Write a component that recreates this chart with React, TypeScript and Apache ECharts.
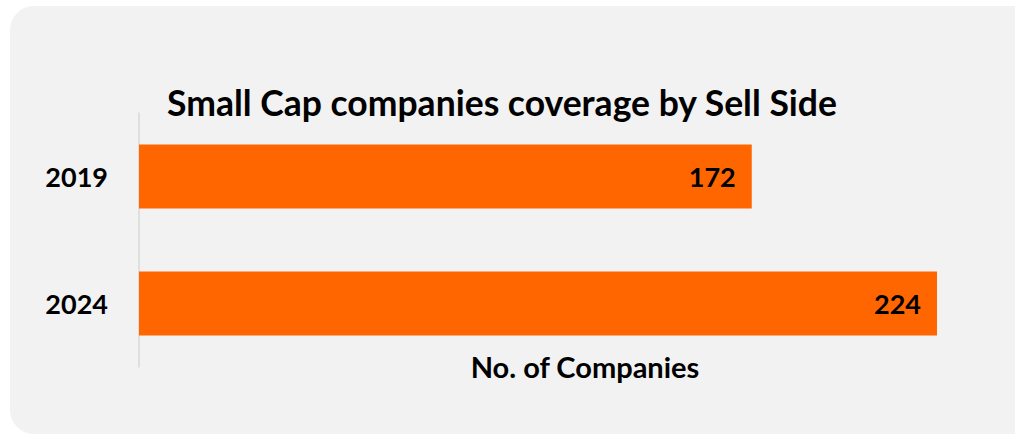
import React, { useEffect, useRef } from "react";
import * as echarts from "echarts";

const categories = ["2019", "2024"];
const values = [172, 224];
const titleText = "Small Cap companies coverage by Sell Side";
const axisName = "No. of Companies";

export default function App() {
  const ref = useRef<HTMLDivElement>(null);
  useEffect(() => {
    if (!ref.current) return;
    const chart = echarts.init(ref.current, null, { renderer: "svg" });
    const font = "Lato, 'Open Sans', sans-serif";
    chart.setOption({
      animation: false,
      textStyle: { fontFamily: font },
      title: {
        text: titleText,
        left: 497,
        top: 79,
        textAlign: "center",
        textStyle: { fontFamily: font, fontWeight: "bold", fontSize: 35.5, color: "#000" },
      },
      grid: { left: 139, right: 78, top: 113, bottom: 68, containLabel: false },
      xAxis: {
        type: "value",
        min: 0,
        max: 224,
        axisLabel: { show: false },
        axisLine: { show: false },
        axisTick: { show: false },
        splitLine: { show: false },
      },
      yAxis: {
        type: "category",
        data: categories,
        inverse: true,
        axisLine: { show: true, lineStyle: { color: "#d9d9d9", width: 1.5 } },
        axisTick: { show: false },
        axisLabel: { margin: 31, fontFamily: font, fontWeight: "bold", fontSize: 27, color: "#000" },
      },
      graphic: [
        {
          type: "text",
          x: 585,
          y: 366,
          style: {
            text: axisName,
            fontFamily: font,
            fontWeight: "bold",
            fontSize: 29,
            fill: "#000",
            textAlign: "center",
            textVerticalAlign: "middle",
          },
        },
      ],
      series: [
        {
          type: "bar",
          data: values,
          barWidth: 64,
          itemStyle: { color: "#FF6600" },
          label: {
            show: true,
            position: "insideRight",
            distance: 16,
            fontFamily: font,
            fontWeight: "bold",
            fontSize: 27,
            color: "#000",
          },
        },
      ],
    });
    return () => chart.dispose();
  }, []);
  return (
    <div style={{ position: "fixed", left: 0, top: 0, width: 1015, height: 435, background: "#fff", overflow: "hidden" }}>
      <div
        style={{
          position: "absolute",
          left: 10,
          top: 6,
          width: 1030,
          height: 428,
          background: "#f2f2f2",
          borderRadius: 24,
        }}
      />
      <div ref={ref} style={{ position: "absolute", left: 0, top: 0, width: 1015, height: 435 }} />
    </div>
  );
}
